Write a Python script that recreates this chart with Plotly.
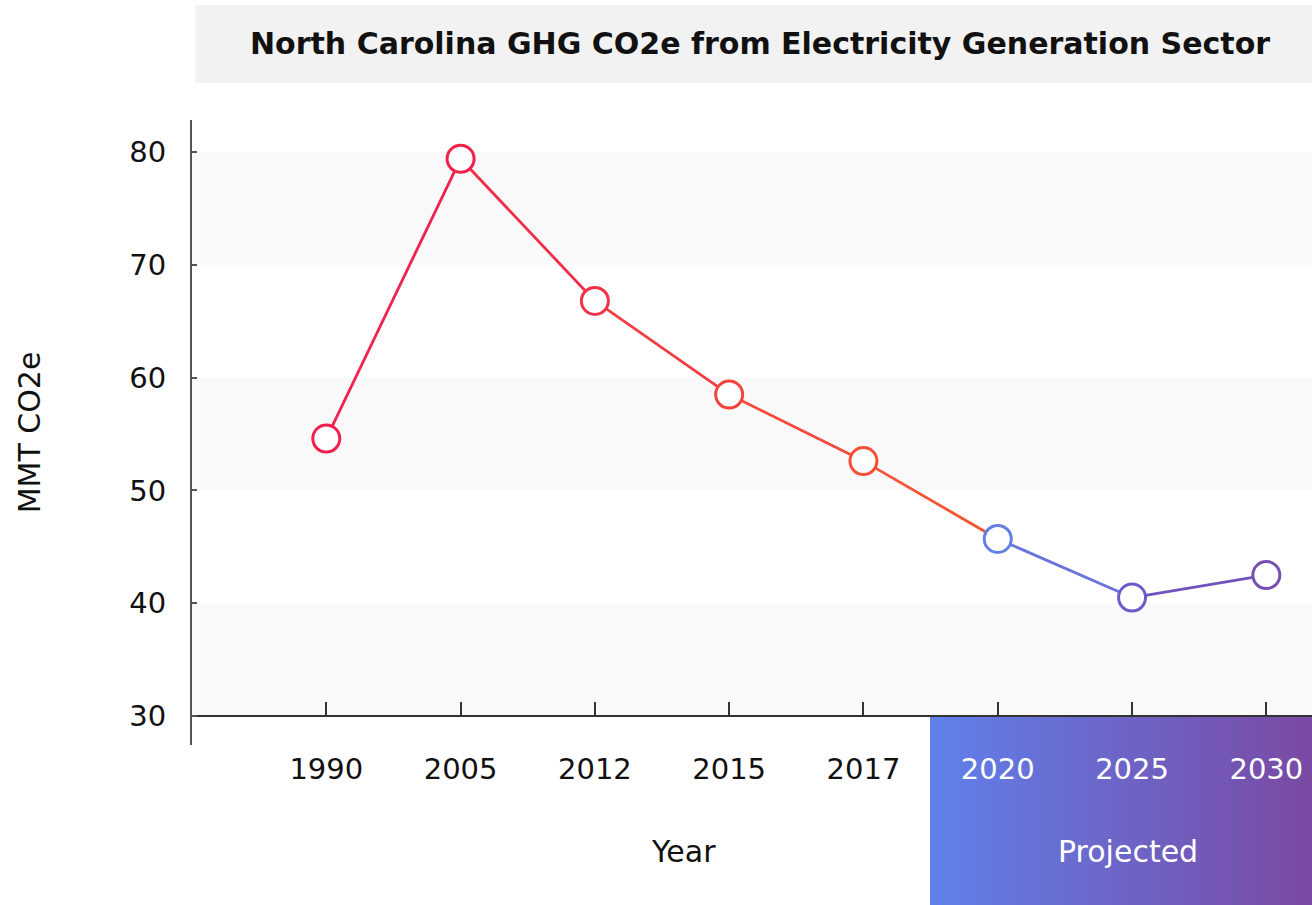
import plotly.graph_objects as go

# ---- data ----
years = ["1990", "2005", "2012", "2015", "2017", "2020", "2025", "2030"]
values = [54.6, 79.4, 66.8, 58.5, 52.6, 45.7, 40.5, 42.5]
projected_years = ["2020", "2025", "2030"]
y_ticks = [30, 40, 50, 60, 70, 80]

title_text = "North Carolina GHG CO2e from Electricity Generation Sector"
y_title = "MMT CO2e"
x_title = "Year"
proj_label = "Projected"

# ---- styling ----
FONT = "DejaVu Sans"
marker_colors = ["#f01f4c", "#f0224a", "#f13346", "#f3433e", "#f54f38",
                 "#6480e6", "#6a5ccb", "#7550b0"]
segment_colors = ["#f0234c", "#f12e48", "#f23d42", "#f4493b", "#f55533",
                  "#6d73dc", "#7152bb"]

W, H = 1312, 905
ML, MR, MT, MB = 192, 0, 120, 160
plot_h = H - MT - MB
axis_pos = (745 - 716) / plot_h  # paper y where the x axis line sits (value 30)

fig = go.Figure()

# line segments
for i in range(len(years) - 1):
    fig.add_trace(go.Scatter(
        x=years[i:i + 2], y=values[i:i + 2], mode="lines",
        line=dict(color=segment_colors[i], width=2.8),
        hoverinfo="skip", showlegend=False))

# markers
fig.add_trace(go.Scatter(
    x=years, y=values, mode="markers",
    marker=dict(size=27, color="white", symbol="circle",
                line=dict(color=marker_colors, width=3)),
    showlegend=False))

shapes = []
# alternating bands
for lo in (30, 50, 70):
    shapes.append(dict(type="rect", xref="paper", yref="y", x0=0, x1=1,
                       y0=lo, y1=lo + 10, fillcolor="#f9f9f9",
                       line=dict(width=0), layer="below"))

# title box
shapes.append(dict(type="rect", xref="paper", yref="paper",
                   x0=(195 - ML) / (W - ML), x1=1,
                   y0=(745 - 83) / plot_h, y1=(745 - 5) / plot_h,
                   fillcolor="#f2f2f2", line=dict(width=0), layer="below"))

# projected gradient box
c0 = (96, 128, 234)
c1 = (122, 74, 164)
N = 80
bx0 = (930 - ML) / (W - ML)
bx1 = 1.0
for k in range(N):
    t = k / (N - 1)
    col = "rgb(%d,%d,%d)" % tuple(round(a + (b - a) * t) for a, b in zip(c0, c1))
    xa = bx0 + (bx1 - bx0) * k / N
    xb = bx0 + (bx1 - bx0) * (k + 1) / N + 0.001
    shapes.append(dict(type="rect", xref="paper", yref="paper",
                       x0=xa, x1=min(xb, 1.0), y0=-(MB / plot_h), y1=axis_pos,
                       fillcolor=col, line=dict(width=0), layer="below"))

ticktext = [('<span style="color:white">%s</span>' % y) if y in projected_years else y
            for y in years]

fig.update_layout(
    width=W, height=H,
    margin=dict(l=ML, r=MR, t=MT, b=MB),
    paper_bgcolor="white", plot_bgcolor="rgba(0,0,0,0)",
    font=dict(family=FONT, color="#111111", size=28),
    shapes=shapes,
    xaxis=dict(type="category", categoryorder="array", categoryarray=years,
               range=[-1, 7.34], anchor="free", position=axis_pos,
               showline=True, linecolor="#333333", linewidth=2,
               ticks="inside", ticklen=13, tickwidth=2, tickcolor="#333333",
               tickvals=years, ticktext=ticktext, ticklabelstandoff=27,
               tickfont=dict(family=FONT, size=29, color="#111111"),
               showgrid=False, zeroline=False),
    yaxis=dict(range=[27.43, 82.84], tickvals=y_ticks,
               showline=True, linecolor="#555555", linewidth=2,
               ticks="inside", ticklen=5, tickwidth=2, tickcolor="#555555",
               ticklabelstandoff=18,
               tickfont=dict(family=FONT, size=29, color="#111111"),
               showgrid=False, zeroline=False,
               title=dict(text=y_title, standoff=80,
                          font=dict(family=FONT, size=30, color="#111111"))),
    annotations=[
        dict(text="<b>%s</b>" % title_text, xref="paper", yref="paper",
             x=(760 - ML) / (W - ML), y=(745 - 43) / plot_h,
             xanchor="center", yanchor="middle", showarrow=False,
             font=dict(family=FONT, size=30, color="#111111")),
        dict(text=x_title, xref="paper", yref="paper",
             x=(683 - ML) / (W - ML), y=-(851 - 745) / plot_h,
             xanchor="center", yanchor="middle", showarrow=False,
             font=dict(family=FONT, size=30, color="#111111")),
        dict(text=proj_label, xref="paper", yref="paper",
             x=(1128 - ML) / (W - ML), y=-(851 - 745) / plot_h,
             xanchor="center", yanchor="middle", showarrow=False,
             font=dict(family=FONT, size=30, color="white")),
    ],
)

fig.write_html("out.html", config={"displayModeBar": False},
               post_script="document.body.style.margin='0px';")
